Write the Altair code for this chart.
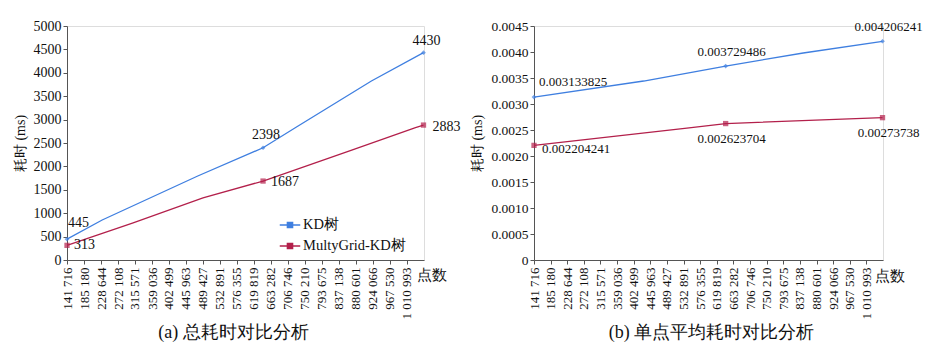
import altair as alt
import pandas as pd

# ---- data ----
series_names = ["KD树", "MultyGrid-KD树"]
tick_values = [141716, 185180, 228644, 272108, 315571, 359036, 402499, 445963,
               489427, 532891, 576355, 619819, 663282, 706746, 750210, 793675,
               837138, 880601, 924066, 967530, 1010993]

# labelled points (x = point count)
label_x = [141716, 642984, 1053202]
kd_total = [445, 2398, 4430]
mg_total = [313, 1687, 2883]
kd_avg = [0.003133825, 0.003729486, 0.004206241]
mg_avg = [0.002204241, 0.002623704, 0.00273738]

# full line paths
kd_total_x = [141716, 231700, 476000, 642984, 728400, 920000, 1053202]
kd_total_y = [445, 855, 1795, 2398, 2842, 3825, 4430]
mg_total_x = [141716, 309000, 489400, 642984, 869700, 1032700, 1053202]
mg_total_y = [313, 790, 1325, 1687, 2350, 2830, 2883]
kd_avg_x = [141716, 428600, 642984, 845800, 1053202]
kd_avg_y = [0.003133825, 0.003442, 0.003729486, 0.003981, 0.004206241]
mg_avg_x = [141716, 541600, 642984, 1053202]
mg_avg_y = [0.002204241, 0.002538, 0.002623704, 0.00273738]

colors = ["#3f7fe0", "#b3204b"]
FONT = "Liberation Serif"
X_DOMAIN = [141716, 1054460]


def line_df(xs, ys, name):
    return pd.DataFrame({"x": xs, "y": ys, "s": name})


def build(kd_x, kd_y, mg_x, mg_y, kd_lab, mg_lab, ymax, ylabel_expr,
          caption, legend_xy, width, label_specs, cap_dx, title_xy, lab_size,
          ylab_size):
    lines = pd.concat([line_df(kd_x, kd_y, series_names[0]),
                       line_df(mg_x, mg_y, series_names[1])])
    pts = pd.concat([
        pd.DataFrame({"x": label_x, "y": kd_lab, "s": series_names[0],
                      "t": [str(v) for v in kd_lab], "k": [0, 1, 2]}),
        pd.DataFrame({"x": label_x, "y": mg_lab, "s": series_names[1],
                      "t": [str(v) for v in mg_lab], "k": [3, 4, 5]}),
    ])
    xenc = alt.X("x:Q", scale=alt.Scale(domain=X_DOMAIN, nice=False, zero=False),
                 axis=alt.Axis(values=tick_values, labelAngle=270,
                               labelExpr="replace(format(datum.value, ','), regexp(',', 'g'), ' ')",
                               labelOverlap=False, labelBound=False, labelFlush=False,
                               title="点数", titleAngle=0, titleX=title_xy[0],
                               titleY=title_xy[1], titleFontWeight="normal",
                               titleFontSize=15, titleFont=FONT,
                               titleBaseline="middle",
                               labelFontSize=13, labelFont=FONT, tickSize=4,
                               labelPadding=3, grid=False,
                               domainColor="#555", tickColor="#555",
                               labelColor="#111", titleColor="#111"))
    yenc = alt.Y("y:Q", scale=alt.Scale(domain=[0, ymax], nice=False),
                 axis=alt.Axis(tickCount=9, labelExpr=ylabel_expr,
                               title="耗时 (ms)", titleFont=FONT,
                               titleFontWeight="normal", titleFontSize=14,
                               labelFontSize=ylab_size, labelFont=FONT, tickSize=4,
                               grid=False, domainColor="#555", tickColor="#555",
                               labelColor="#111", titleColor="#111",
                               titlePadding=6))
    cscale = alt.Scale(domain=series_names, range=colors)
    color = alt.Color("s:N", scale=cscale,
                      legend=alt.Legend(title=None, orient="none",
                                        legendX=legend_xy[0], legendY=legend_xy[1],
                                        symbolType="M-1,0L1,0M-0.25,-0.25L0.25,-0.25L0.25,0.25L-0.25,0.25Z",
                                        symbolSize=420, symbolStrokeWidth=1.5,
                                        labelFont=FONT, labelFontSize=14.5,
                                        labelColor="#111", rowPadding=3,
                                        labelOffset=2))
    line = alt.Chart(lines).mark_line(strokeWidth=1.3).encode(color=color)
    kd_pts = alt.Chart(pts).transform_filter(alt.datum.s == series_names[0]).mark_point(
        shape="diamond", filled=True, size=22).encode(
        color=alt.Color("s:N", scale=cscale, legend=None))
    mg_pts = alt.Chart(pts).transform_filter(alt.datum.s == series_names[1]).mark_point(
        shape="square", filled=True, size=28).encode(
        color=alt.Color("s:N", scale=cscale, legend=None))
    layers = [line, kd_pts, mg_pts]
    for k, (dx, dy, align) in enumerate(label_specs):
        layers.append(
            alt.Chart(pts).transform_filter(alt.datum.k == k).mark_text(
                dx=dx, dy=dy, align=align, baseline="middle", font=FONT,
                fontSize=lab_size, color="#111").encode(text="t:N"))
    return alt.layer(*layers).encode(x=xenc, y=yenc).properties(
        width=width, height=234,
        title=alt.TitleParams(caption, orient="bottom", font=FONT, fontSize=18,
                              fontWeight="normal", color="#111", offset=5,
                              dx=cap_dx))


left = build(kd_total_x, kd_total_y, mg_total_x, mg_total_y, kd_total, mg_total,
             5000, "format(datum.value, 'd')", "(a) 总耗时对比分析",
             (212, 188), 357,
             [(1, -16, "left"), (3, -13, "center"), (3, -12, "center"),
              (7, 0, "left"), (8, 1, "left"), (9, 2, "left")], -12,
             (364, 14), 14, 14)
right = build(kd_avg_x, kd_avg_y, mg_avg_x, mg_avg_y, kd_avg, mg_avg,
              0.0045, "datum.value == 0 ? '0' : format(datum.value, '.4f')",
              "(b) 单点平均耗时对比分析", (232, 180), 349,
              [(5, -15, "left"), (6, -14, "center"), (6, -14, "center"),
               (8, 4, "left"), (6, 15, "center"), (6, 15, "center")], 3,
              (355, 15), 13, 13.5)

chart = alt.hconcat(left, right, spacing=8).properties(
    padding={"left": 12, "top": 18, "right": 5, "bottom": 5}
).configure_view(stroke=None).configure(background="white", font=FONT)

chart.save("out.html", embed_options={"renderer": "svg", "actions": False})
